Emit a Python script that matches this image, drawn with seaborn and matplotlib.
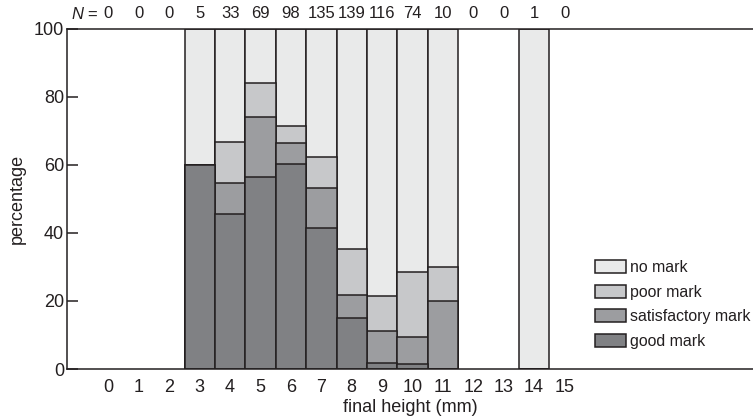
import matplotlib
matplotlib.use("Agg")
import matplotlib.pyplot as plt
import matplotlib.transforms as mtransforms
import numpy as np
import pandas as pd
import seaborn as sns

# final height categories (mm) and number of plants in each
heights = [str(h) for h in range(16)]
n_plants = [0, 0, 0, 5, 33, 69, 98, 135, 139, 116, 74, 10, 0, 0, 1, 0]

# percentage of each mark per height class
good_mark = [0, 0, 0, 60.0, 45.5, 56.5, 60.2, 41.5, 15.1, 1.7, 1.4, 0, 0, 0, 0, 0]
satisfactory_mark = [0, 0, 0, 0, 9.1, 17.4, 6.1, 11.8, 6.5, 9.5, 8.1, 20.0, 0, 0, 0, 0]
poor_mark = [0, 0, 0, 0, 12.1, 10.1, 5.1, 8.9, 13.7, 10.3, 18.9, 10.0, 0, 0, 0, 0]

series_names = ["no mark", "poor mark", "satisfactory mark", "good mark"]
series_colors = ["#e9eaea", "#c7c8ca", "#9c9da0", "#808184"]

sns.set_style("white")
plt.rcParams["font.family"] = ["Liberation Sans", "DejaVu Sans"]
plt.rcParams["mathtext.fontset"] = "custom"
plt.rcParams["mathtext.it"] = "Liberation Sans:italic"
plt.rcParams["mathtext.rm"] = "Liberation Sans"

dark = "#231f20"

# cumulative tops, drawn from the top layer down so they stack
good = np.array(good_mark, dtype=float)
sat = good + np.array(satisfactory_mark)
poor = sat + np.array(poor_mark)
total = np.where(np.array(n_plants) > 0, 100.0, np.nan)
for arr in (good, sat, poor):
    arr[np.array(n_plants) == 0] = np.nan

df = pd.DataFrame({"height": heights, "no mark": total, "poor mark": poor,
                   "satisfactory mark": sat, "good mark": good})

fig = plt.figure(figsize=(7.53, 4.18), dpi=100)
ax = fig.add_axes([67 / 753, 49 / 418, 1 - 67 / 753, 340.5 / 418])

for name, col in zip(series_names, series_colors):
    sns.barplot(data=df, x="height", y=name, order=heights, color=col,
                width=1, edgecolor=dark, linewidth=1.1, saturation=1,
                errorbar=None, label=name, ax=ax)

ax.set_xlim(-1.365, 21.2)
ax.set_ylim(0, 100)
ax.set_yticks([0, 20, 40, 60, 80, 100])
ax.set_xlabel("final height (mm)", fontsize=13, color="#231f20", labelpad=2)
ax.set_ylabel("percentage", fontsize=13, color="#231f20", labelpad=6)
ax.tick_params(axis="y", direction="in", length=8, width=1.1, color=dark,
               labelsize=13, labelcolor=dark, pad=2, left=True)
ax.tick_params(axis="x", length=0, labelsize=13, labelcolor=dark, pad=7)

for side in ["left", "top", "bottom"]:
    ax.spines[side].set_color(dark)
    ax.spines[side].set_linewidth(1.1)
ax.spines["right"].set_visible(False)

# sample sizes above each bar
trans = mtransforms.blended_transform_factory(ax.transData, ax.transAxes)
for i, n in enumerate(n_plants):
    ax.text(i, 1.043, str(n), transform=trans, ha="center", va="center",
            fontsize=12, color=dark)
ax.text(-0.78, 1.043, r"$\mathit{N}$ =", transform=trans, ha="center",
        va="center", fontsize=12, color=dark)

leg = ax.legend(loc="upper left", bbox_to_anchor=(0.7606, 0.338), frameon=False,
                fontsize=11.4, handlelength=1.93, handleheight=0.9,
                handletextpad=0.3, labelspacing=0.6, borderaxespad=0)
for t in leg.get_texts():
    t.set_color(dark)

fig.savefig("out.png", dpi=100)
